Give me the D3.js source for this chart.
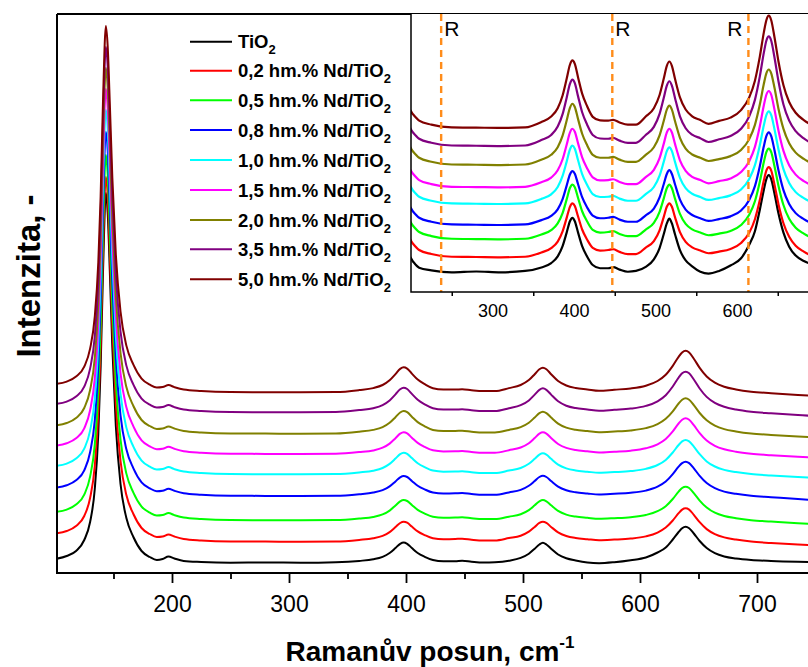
<!DOCTYPE html>
<html><head><meta charset="utf-8">
<script src="https://cdn.jsdelivr.net/npm/d3@7"></script>
<style>body{margin:0;background:#fff}svg{display:block;font-family:"Liberation Sans",Arial,Helvetica,sans-serif}</style>
</head><body><svg id="c" width="808" height="667"></svg>
<script>
// ---------- DATA ----------
const wavenumbers = [100,110,118,125,130,134,137,139,141,143.5,145,147,149,152,156,161,167,174,181,187,192,197,202,210,225,250,280,310,340,360,372,380,386,391,395,398,401,405,410,416,423,432,442,448,456,466,476,488,498,505,510,514,517,520,524,530,537,545,555,565,578,592,605,615,622,628,633,636,639,642,646,651,657,664,672,682,695,712,735,760,800];

const tio2 = [14,17,22,33,51,84,139,206,300,380, 361,297,226,147,89,55,36,22,16,13, 14,16.5,14.5,12,11,10.3,10.6,10.3,10.8,
 12.1,13.7,16.2,20,25,29.2,30.5,29.2,25,20,16.2,13,11.8,
 11.8,12.2,11.3,10.5,10.8,
 12.3,15.1,19.3,24.3,28.5,30.2,28.5,24.3,18.5,14.7,12.5,10.5,
 9.8,
 10.8,12.8,15.5,20.5,25.5,33.5,41,44.8,46.3,44.8,39.5,32,25,19.8,16.5,14.5,13,12,11.2,10.8,10.5];

const nd02 = [18.5,21,26,36,54,86,140,206,300,375, 357,294,225,148,91,57,38,24,18,15, 15.5,17.5,15.5,13,11.5,10.5,10.4,10.3,10.5,
 12.1,13.7,16.1,19.9,24.9,29.0,30.3,29.3,25.4,20.6,16.9,13.8,12.8,
 13,13.3,12.3,11.5,11.5,
 13.9,16.3,20.3,25.1,29.1,30.3,29.1,25.1,19.6,16.0,14.0,12.8,
 11.8,
 12.4,13.4,15.6,19.4,24.4,31.5,38.8,42.4,43.7,42.4,37.2,29.8,22.9,17.9,14.6,12.4,10.4,9.0,7.4,6.0,4.1];

const nd05 = [18.5,21,26,36,54,86,140,206,300,375.6, 357,294,225,148,91,57,38,24,18,15, 15.5,17.5,15.5,13,11.5,10.5,10.4,10.3,10.5,
 12.1,13.7,16.2,20.0,25.1,29.3,30.6,29.6,25.6,20.7,17.0,13.8,12.8,
 13,13.3,12.3,11.5,11.5,
 13.9,16.4,20.5,25.3,29.3,30.6,29.3,25.3,19.7,16.0,14.0,12.8,
 11.8,
 12.4,13.4,15.6,19.4,24.4,31.6,39.0,42.6,43.9,42.6,37.4,30.0,23.0,17.9,14.6,12.4,10.4,9.1,7.4,6.0,4.1];

const nd08 = [18.5,21,26,36,54,86,140,206,300,374.3, 357,294,225,148,91,57,38,24,18,15, 15.5,17.5,15.5,13,11.5,10.5,10.4,10.3,10.5,
 12.1,13.7,16.1,19.9,24.9,29.0,30.3,29.3,25.4,20.6,16.9,13.8,12.8,
 13,13.3,12.3,11.5,11.5,
 13.9,16.4,20.5,25.3,29.3,30.6,29.3,25.3,19.7,16.0,14.0,12.8,
 11.8,
 12.5,13.5,15.7,19.6,24.7,32.1,39.6,43.2,44.6,43.2,38.0,30.4,23.2,18.1,14.7,12.5,10.5,9.1,7.2,5.6,3.6];

const nd10 = [18.5,21,26,36,54,86,140,206,300,374.6, 357,294,225,148,91,57,38,24,18,15, 15.5,17.5,15.5,13,11.5,10.5,10.4,10.3,10.5,
 12.2,13.9,16.6,20.7,26.0,30.5,31.9,30.8,26.5,21.4,17.4,14.0,12.9,
 13,13.3,12.3,11.5,11.5,
 14.0,16.6,20.8,25.8,30.0,31.3,30.0,25.8,20.0,16.2,14.1,12.9,
 11.8,
 12.5,13.5,15.7,19.6,24.7,32.1,39.6,43.2,44.6,43.2,38.0,30.4,23.2,18.1,14.7,12.5,10.5,9.1,7.6,6.4,4.6];

const nd15 = [18.5,21,26,36,54,86,140,206,300,375.3, 357,294,225,148,91,57,38,24,18,15, 15.5,17.5,15.5,13,11.5,10.5,10.4,10.3,10.5,
 12.2,13.9,16.6,20.7,26.1,30.6,32.0,30.9,26.6,21.4,17.4,14.0,12.9,
 13,13.3,12.3,11.5,11.5,
 14.1,16.8,21.1,26.3,30.7,32.0,30.7,26.3,20.3,16.4,14.2,13.0,
 11.8,
 12.6,13.6,16.0,20.0,25.3,32.9,40.8,44.6,46.0,44.6,39.1,31.2,23.8,18.5,15.0,12.6,10.6,9.1,7.5,6.2,4.3];

const nd20 = [18.5,21,26,36,54,86,140,206,300,376, 357,294,225,148,91,57,38,24,18,15, 15.5,17.5,15.5,13,11.5,10.5,10.4,10.3,10.5,
 12.3,14.1,16.9,21.2,26.8,31.5,33.0,31.8,27.3,21.9,17.7,14.1,13.0,
 13,13.3,12.3,11.5,11.5,
 14.1,16.9,21.3,26.5,30.9,32.3,30.9,26.5,20.4,16.4,14.2,13.0,
 11.8,
 12.5,13.6,15.9,19.9,25.2,32.7,40.5,44.3,45.7,44.3,38.9,31.0,23.7,18.4,14.9,12.6,10.5,9.1,7.4,6.0,4.1];

const nd35 = [18.5,21,26,36,54,86,140,206,300,375.6, 357,294,225,148,91,57,38,24,18,15, 15.5,17.5,15.5,13,11.5,10.5,10.4,10.3,10.5,
 12.5,14.4,17.5,22.1,28.2,33.3,34.9,33.6,28.7,22.8,18.3,14.4,13.1,
 13,13.3,12.3,11.5,11.5,
 14.4,17.4,22.2,28.0,32.8,34.3,32.8,28.0,21.3,16.9,14.5,13.2,
 11.8,
 12.8,14.0,16.7,21.3,27.4,36.1,45.0,49.3,50.9,49.3,43.1,34.1,25.7,19.7,15.8,13.1,10.9,9.3,7.5,6.1,4.2];

const nd50 = [18.5,21,26,36,54,86,140,206,300,376.6, 357,294,225,148,91,57,38,24,18,15, 15.5,17.5,15.5,13,11.5,10.5,10.4,10.3,10.5,
 12.5,14.5,17.6,22.3,28.5,33.7,35.3,34.0,29.0,23.0,18.4,14.4,13.1,
 13,13.3,12.3,11.5,11.5,
 14.5,17.6,22.5,28.4,33.4,34.9,33.4,28.4,21.6,17.1,14.6,13.2,
 11.8,
 12.9,14.1,16.9,21.6,27.8,36.7,45.8,50.2,51.9,50.2,43.9,34.7,26.1,19.9,15.9,13.2,10.9,9.4,7.6,6.1,4.2];

const seriesData = [tio2, nd02, nd05, nd08, nd10, nd15, nd20, nd35, nd50];
const legendLabels = ["TiO", "0,2 hm.% Nd/TiO", "0,5 hm.% Nd/TiO", "0,8 hm.% Nd/TiO", "1,0 hm.% Nd/TiO",
  "1,5 hm.% Nd/TiO", "2,0 hm.% Nd/TiO", "3,5 hm.% Nd/TiO", "5,0 hm.% Nd/TiO"];
const seriesColors = ["#000000","#ff0000","#00ff00","#0000ff","#00ffff","#ff00ff","#808000","#800080","#800000"];
const mainOffsets = [0, 21, 42.4, 66.7, 88.4, 108.7, 129, 150.4, 170.4];
const insetOffsets = [0, 5.56, 12.22, 17.52, 25.3, 31.48, 39.74, 46.78, 53.5];
const mainTicks = [200, 300, 400, 500, 600, 700];
const mainMinorTicks = [150, 250, 350, 450, 550, 650, 750];
const insetTicks = [300, 400, 500, 600];
const insetMinorTicks = [250, 350, 450, 550, 650];
const rutileLines = [237, 447, 614];
const rutileLabel = "R";

// ---------- CHART ----------
const svg = d3.select("#c");
svg.append("rect").attr("width", 808).attr("height", 667).attr("fill", "#fff");

const x = d3.scaleLinear().domain([100, 800]).range([55, 874]);
const y = d3.scaleLinear().domain([0, 559]).range([573, 14]);

const defs = svg.append("defs");
defs.append("clipPath").attr("id", "mainclip").append("rect")
  .attr("x", 57).attr("y", 12).attr("width", 751).attr("height", 561);
defs.append("clipPath").attr("id", "insetclip").append("rect")
  .attr("x", 411).attr("y", 14).attr("width", 397).attr("height", 278);

const points = arr => arr.map((v, i) => [wavenumbers[i], v]);

const mainG = svg.append("g").attr("clip-path", "url(#mainclip)");
seriesData.forEach((arr, i) => {
  const line = d3.line().curve(d3.curveMonotoneX)
    .x(d => x(d[0])).y(d => y(d[1] + mainOffsets[i]));
  mainG.append("path").attr("d", line(points(arr)))
    .attr("fill", "none").attr("stroke", seriesColors[i]).attr("stroke-width", 2)
    .attr("stroke-linejoin", "round");
});

// axes
const axMinor = svg.append("g").attr("transform", "translate(0,573)")
  .call(d3.axisBottom(x).tickValues(mainMinorTicks).tickSize(6).tickFormat(""));
const axMajor = svg.append("g").attr("transform", "translate(0,573)")
  .call(d3.axisBottom(x).tickValues(mainTicks).tickSize(10).tickPadding(13).tickFormat(d3.format("d")));
[axMinor, axMajor].forEach(g => {
  g.select(".domain").remove();
  g.selectAll(".tick line").attr("stroke", "#000").attr("stroke-width", 1.8);
});
axMajor.selectAll(".tick text").attr("font-size", 23).attr("fill", "#000")
  .attr("font-family", '"Liberation Sans",Arial,sans-serif');

svg.append("path").attr("d", "M57,14V573H808M57,14H808")
  .attr("fill", "none").attr("stroke", "#000").attr("stroke-width", 2);

// axis titles
const xt = svg.append("text").attr("x", 430).attr("y", 661).attr("text-anchor", "middle")
  .attr("font-size", 28).attr("font-weight", "bold").attr("fill", "#000");
xt.append("tspan").text("Ramanův posun, cm");
xt.append("tspan").attr("font-size", 17).attr("dy", -13).text("-1");

svg.append("text").attr("transform", "translate(40,276) rotate(-90)")
  .attr("text-anchor", "middle").attr("font-size", 33).attr("font-weight", "bold")
  .attr("fill", "#000").text("Intenzita, -");

// legend
const legendY = [41.7, 70.7, 100.3, 130, 160, 190, 220, 249.3, 279.3];
legendLabels.forEach((lab, i) => {
  svg.append("line").attr("x1", 190).attr("x2", 232).attr("y1", legendY[i]).attr("y2", legendY[i])
    .attr("stroke", seriesColors[i]).attr("stroke-width", 2);
  const t = svg.append("text").attr("x", 238).attr("y", legendY[i] + 6.6)
    .attr("font-size", 18.5).attr("font-weight", "bold").attr("fill", "#000");
  t.append("tspan").text(lab);
  t.append("tspan").attr("font-size", 13).attr("dy", 6).text("2");
});

// ---------- INSET ----------
const xi = d3.scaleLinear().domain([200, 700]).range([411, 818.5]);
const yi = d3.scaleLinear().domain([3.0, 106]).range([292, 14]);

svg.append("rect").attr("x", 411).attr("y", 14).attr("width", 397).attr("height", 278).attr("fill", "#fff");
const insetG = svg.append("g").attr("clip-path", "url(#insetclip)");
seriesData.forEach((arr, i) => {
  const line = d3.line().curve(d3.curveMonotoneX)
    .x(d => xi(d[0])).y(d => yi(d[1] + insetOffsets[i]));
  insetG.append("path").attr("d", line(points(arr)))
    .attr("fill", "none").attr("stroke", seriesColors[i]).attr("stroke-width", 2.2)
    .attr("stroke-linejoin", "round");
});

// rutile markers
rutileLines.forEach((r, k) => {
  svg.append("line").attr("x1", xi(r)).attr("x2", xi(r)).attr("y1", 14).attr("y2", 292)
    .attr("stroke", "#ff8c1a").attr("stroke-width", 2.4).attr("stroke-dasharray", "7,5");
  const right = k < 2;
  svg.append("text").attr("x", right ? xi(r) + 3 : xi(r) - 6).attr("y", 36)
    .attr("text-anchor", right ? "start" : "end")
    .attr("font-size", 21).attr("fill", "#000").text(rutileLabel);
});

const iaMinor = svg.append("g").attr("transform", "translate(0,292)")
  .call(d3.axisBottom(xi).tickValues(insetMinorTicks).tickSize(4).tickFormat(""));
const iaMajor = svg.append("g").attr("transform", "translate(0,292)")
  .call(d3.axisBottom(xi).tickValues(insetTicks).tickSize(0).tickPadding(12).tickFormat(d3.format("d")));
[iaMinor, iaMajor].forEach(g => {
  g.select(".domain").remove();
  g.selectAll(".tick line").attr("stroke", "#000").attr("stroke-width", 1.5);
});
iaMajor.selectAll(".tick text").attr("font-size", 18).attr("fill", "#000")
  .attr("font-family", '"Liberation Sans",Arial,sans-serif');
svg.append("path").attr("d", "M411,14V292H808")
  .attr("fill", "none").attr("stroke", "#000").attr("stroke-width", 1.5);
</script></body></html>
